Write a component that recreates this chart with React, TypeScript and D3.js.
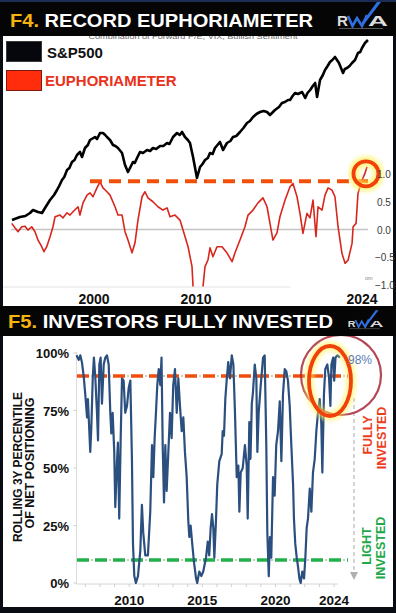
import React from 'react';
import * as d3 from 'd3';

// ---------- DATA ----------
const sp500: [number, number][] = [
  [1992.0, 10], [1992.78, 13], [1993.3, 14], [1993.76, 17], [1994.05, 20], [1994.54, 18], [1994.93, 17],
  [1995.22, 22], [1995.71, 30], [1996.1, 35], [1996.39, 40], [1996.6, 44], [1996.88, 50], [1997.1, 53],
  [1997.37, 60], [1997.6, 62], [1997.85, 68], [1998.1, 70], [1998.34, 75], [1998.63, 78], [1998.83, 73],
  [1999.12, 82], [1999.4, 85], [1999.61, 90], [2000.1, 93], [2000.3, 91], [2000.59, 97], [2000.88, 97],
  [2001.1, 95], [2001.27, 93], [2001.57, 90], [2001.86, 85], [2002.1, 84], [2002.35, 82], [2002.75, 77],
  [2003.04, 65], [2003.33, 58], [2003.53, 62], [2003.82, 68], [2004.0, 67], [2004.22, 72], [2004.51, 78],
  [2004.8, 77], [2005.2, 80], [2005.5, 79], [2005.78, 82], [2006.1, 81], [2006.47, 84], [2006.8, 84],
  [2007.16, 87], [2007.4, 86], [2007.75, 93], [2008.14, 97], [2008.4, 95], [2008.63, 98], [2008.92, 93],
  [2009.2, 90], [2009.41, 87], [2009.71, 73], [2010.08, 52], [2010.34, 63], [2010.55, 66], [2010.76, 70],
  [2011.0, 72], [2011.18, 77], [2011.4, 76], [2011.6, 82], [2012.02, 88], [2012.28, 80], [2012.61, 87],
  [2012.9, 89], [2013.12, 93], [2013.4, 94], [2013.71, 98], [2014.0, 102], [2014.3, 107], [2014.55, 109],
  [2014.81, 113], [2015.1, 116], [2015.4, 118], [2015.7, 119], [2015.99, 118], [2016.24, 115],
  [2016.66, 120], [2017.0, 123], [2017.25, 127], [2017.5, 128], [2017.76, 130], [2017.93, 130],
  [2018.15, 134], [2018.35, 137], [2018.6, 136], [2018.95, 138], [2019.21, 132], [2019.4, 137],
  [2019.63, 140], [2019.85, 144], [2020.05, 147], [2020.21, 133], [2020.46, 150], [2020.7, 155],
  [2020.88, 160], [2021.1, 164], [2021.3, 168], [2021.5, 170], [2021.72, 173], [2022.06, 167],
  [2022.4, 157], [2022.55, 161], [2022.74, 162], [2022.95, 164], [2023.16, 167], [2023.41, 170],
  [2023.66, 177], [2023.85, 178], [2024.0, 182], [2024.25, 187], [2024.5, 190],
];

const euphoria: [number, number][] = [
  [1991.97, 0.11], [1992.29, 0.03], [1992.59, -0.04], [1992.95, 0.05], [1993.27, 0.06], [1993.56, -0.01],
  [1993.92, 0.05], [1994.24, -0.04], [1994.54, -0.19], [1994.9, -0.31], [1995.12, -0.4], [1995.39, -0.31],
  [1995.71, -0.13], [1996.0, 0.05], [1996.2, 0.23], [1996.68, 0.26], [1996.98, 0.21], [1997.37, 0.3],
  [1997.66, 0.26], [1997.95, 0.32], [1998.44, 0.41], [1998.63, 0.26], [1998.93, 0.48], [1999.32, 0.62],
  [1999.61, 0.66], [1999.9, 0.59], [2000.29, 0.75], [2000.59, 0.86], [2000.88, 0.75], [2001.27, 0.68],
  [2001.57, 0.62], [2002.06, 0.41], [2002.35, 0.26], [2002.75, 0.26], [2003.04, -0.04], [2003.33, -0.19],
  [2003.73, -0.42], [2004.02, -0.24], [2004.31, 0.17], [2004.71, 0.59], [2005.0, 0.68], [2005.29, 0.57],
  [2005.78, 0.5], [2006.27, 0.41], [2006.76, 0.35], [2007.16, 0.39], [2007.45, 0.23], [2007.94, 0.26],
  [2008.43, 0.17], [2008.73, -0.01], [2009.22, -0.31], [2009.61, -0.67], [2009.71, -1.03], [2010.0, -1.25],
  [2010.34, -1.25], [2010.59, -1.03], [2010.76, -0.67], [2011.01, -0.55], [2011.18, -0.33], [2011.43, -0.49],
  [2011.77, -0.31], [2012.19, -0.31], [2012.61, -0.42], [2013.04, -0.58], [2013.29, -0.42], [2013.71, -0.19],
  [2014.13, 0.05], [2014.39, 0.26], [2014.81, 0.35], [2015.23, 0.48], [2015.65, 0.57], [2015.99, 0.41],
  [2016.24, 0.11], [2016.49, -0.19], [2016.83, -0.06], [2017.08, 0.23], [2017.51, 0.53], [2017.93, 0.77],
  [2018.18, 0.83], [2018.52, 0.59], [2018.77, 0.29], [2019.02, -0.07], [2019.36, 0.29], [2019.61, 0.21],
  [2019.87, 0.53], [2020.12, -0.13], [2020.29, 0.41], [2020.63, 0.35], [2020.88, 0.62], [2021.14, 0.75],
  [2021.47, 0.71], [2021.72, 0.59], [2021.98, 0.05], [2022.31, -0.43], [2022.57, -0.61], [2022.83, -0.55],
  [2023.16, -0.25], [2023.25, 0.05], [2023.5, 0.11], [2023.66, 0.65], [2024.0, 0.89], [2024.25, 1.01],
  [2024.42, 1.13],
];

const positioning: [number, number][] = [
  [2006.4, 99], [2006.55, 97], [2006.66, 99], [2006.77, 96], [2006.89, 90], [2007.0, 82], [2007.12, 72],
  [2007.18, 80], [2007.27, 67], [2007.34, 57], [2007.41, 67], [2007.51, 89], [2007.59, 98], [2007.68, 90],
  [2007.8, 74], [2007.87, 62], [2007.96, 95], [2008.05, 98], [2008.14, 78], [2008.26, 95], [2008.37, 98],
  [2008.48, 99], [2008.6, 95], [2008.71, 74], [2008.78, 65], [2008.87, 74], [2008.98, 57], [2009.05, 33],
  [2009.17, 53], [2009.23, 61], [2009.32, 28], [2009.42, 63], [2009.51, 89], [2009.62, 88], [2009.73, 74],
  [2009.85, 77], [2009.97, 85], [2010.08, 88], [2010.19, 53], [2010.26, 17], [2010.35, 3], [2010.46, 0],
  [2010.6, 3], [2010.76, 14], [2010.87, 34], [2010.96, 22], [2011.1, 12], [2011.28, 12], [2011.44, 31],
  [2011.56, 60], [2011.65, 46], [2011.74, 63], [2011.83, 74], [2011.92, 86], [2012.02, 93], [2012.13, 86],
  [2012.21, 98], [2012.29, 60], [2012.38, 35], [2012.47, 60], [2012.56, 40], [2012.67, 56], [2012.79, 74],
  [2012.9, 63], [2013.01, 86], [2013.13, 93], [2013.25, 74], [2013.36, 89], [2013.47, 77], [2013.59, 66],
  [2013.7, 72], [2013.81, 57], [2013.93, 46], [2014.04, 27], [2014.11, 20], [2014.2, 25], [2014.31, 17],
  [2014.43, 9], [2014.57, 2], [2014.65, 0], [2014.79, 5], [2014.93, 3], [2015.06, 5], [2015.25, 11],
  [2015.37, 18], [2015.47, 12], [2015.57, 24], [2015.66, 30], [2015.75, 24], [2015.82, 11], [2015.93, 27],
  [2016.02, 43], [2016.16, 53], [2016.32, 56], [2016.39, 66], [2016.48, 64], [2016.57, 80], [2016.66, 88],
  [2016.77, 96], [2016.89, 89], [2017.01, 99], [2017.12, 95], [2017.23, 74], [2017.35, 46], [2017.46, 51],
  [2017.53, 31], [2017.62, 48], [2017.76, 50], [2017.91, 60], [2018.03, 51], [2018.1, 28], [2018.21, 70],
  [2018.29, 54], [2018.38, 78], [2018.46, 83], [2018.58, 95], [2018.69, 89], [2018.76, 57], [2018.85, 74],
  [2018.99, 86], [2019.15, 98], [2019.26, 99], [2019.37, 60], [2019.44, 22], [2019.54, 3], [2019.62, 20],
  [2019.71, 11], [2019.83, 46], [2019.94, 38], [2020.05, 60], [2020.17, 66], [2020.29, 79], [2020.4, 53],
  [2020.51, 82], [2020.63, 93], [2020.74, 92], [2020.85, 88], [2020.97, 77], [2021.08, 60], [2021.2, 43],
  [2021.26, 28], [2021.35, 17], [2021.45, 11], [2021.54, 7], [2021.63, 2], [2021.72, 0], [2021.83, 5],
  [2021.95, 2], [2022.04, 11], [2022.13, 24], [2022.22, 28], [2022.34, 41], [2022.45, 31], [2022.56, 48],
  [2022.68, 54], [2022.79, 66], [2022.9, 74], [2023.02, 80], [2023.13, 69], [2023.2, 48], [2023.31, 82],
  [2023.4, 93], [2023.54, 95], [2023.66, 89], [2023.75, 77], [2023.82, 95], [2023.94, 98], [2024.01, 88],
  [2024.1, 98], [2024.24, 99], [2024.4, 98],
];

const topYearTicks = [2000, 2010, 2024];
const euphoriaTicks = [1, 0.5, 0, -0.5, -1];
const bottomYearTicks = [2010, 2015, 2020, 2024];
const pctTicks = [100, 75, 50, 25, 0];
const euphoriaRecord = 0.87;
const fullyLevel = 90;
const lightLevel = 10;
const latestPct = 98;

// ---------- SCALES ----------
const xTop = d3.scaleLinear().domain([1992, 2000, 2010, 2024]).range([12, 94, 196, 362]);
const ySp = d3.scaleLinear().domain([0, 200]).range([230, 30]);
const yEu = d3.scaleLinear().domain([-1, 1]).range([285, 174]);
const xBot = d3.scaleLinear().domain([2006.4, 2024.4]).range([76.5, 339.9]);
const yPct = d3.scaleLinear().domain([0, 100]).range([583, 353]);

const FONT = '"Liberation Sans", Arial, Helvetica, sans-serif';

function Logo({ x, y, s }: { x: number; y: number; s: number }) {
  return (
    <g transform={`translate(${x},${y}) scale(${s})`}>
      <text x={1} y={0} fontSize={14} fontWeight={700} fill="#dcdcdc" textLength={11} lengthAdjust="spacingAndGlyphs">R</text>
      <polyline points="12,-10 16.5,0 21,-8 26,0 31,-11" fill="none" stroke="#2f6fe0" strokeWidth={2.6} strokeLinejoin="miter" />
      <polygon points="24,-1 27.5,-1 45,-24 41,-24" fill="#2f6fe0" />
      <text x={32} y={0} fontSize={14} fontWeight={700} fill="#dcdcdc" textLength={20} lengthAdjust="spacingAndGlyphs">A</text>
      <rect x={3} y={2} width={44} height={1} fill="#555" />
    </g>
  );
}

export default function App() {
  const spLine = d3.line<[number, number]>().x(d => xTop(d[0])).y(d => ySp(d[1]));
  const euLine = d3.line<[number, number]>().x(d => xTop(d[0])).y(d => yEu(d[1]));
  const posLine = d3.line<[number, number]>().x(d => xBot(d[0])).y(d => yPct(d[1]));
  const fmt = d3.format('.1f');
  const yRec = yEu(euphoriaRecord);
  const yFull = yPct(fullyLevel);
  const yLight = yPct(lightLevel);
  const last = euphoria[euphoria.length - 1];
  const minorYears = d3.range(2007, 2025);

  return (
    <svg width={396} height={613} style={{ position: 'absolute', left: 0, top: 0 }} fontFamily={FONT}>
      <defs>
        <filter id="blur" x="-20%" y="-50%" width="140%" height="200%">
          <feGaussianBlur stdDeviation={2.2} />
        </filter>
        <clipPath id="topClip"><rect x={3} y={36} width={390} height={251} /></clipPath>
        <clipPath id="botClip"><rect x={3} y={336} width={390} height={271} /></clipPath>
      </defs>

      {/* frame */}
      <rect x={0} y={0} width={396} height={613} fill="#0a0c14" />
      <rect x={0} y={0} width={396} height={2} fill="#1d2c55" />
      <rect x={3} y={36} width={390} height={270} fill="#ffffff" />
      <rect x={3} y={336} width={390} height={271} fill="#ffffff" />

      {/* ===== TOP PANEL ===== */}
      <text x={193} y={38.5} fontSize={8} fill="#666" textAnchor="middle" textLength={209} lengthAdjust="spacingAndGlyphs">
        Combination of Forward P/E, VIX, Bullish Sentiment
      </text>
      <rect x={0} y={2} width={396} height={34} fill="#050505" />
      <text x={10} y={27} fontSize={19} fontWeight={700} textLength={303} lengthAdjust="spacingAndGlyphs">
        <tspan fill="#f6b40c">F4. </tspan><tspan fill="#ffffff">RECORD EUPHORIAMETER</tspan>
      </text>
      <Logo x={336} y={26} s={1} />

      {/* legend */}
      <rect x={6.5} y={41.5} width={35} height={20} fill="#05070d" stroke="#3a3a3a" strokeWidth={1} />
      <text x={47} y={57.5} fontSize={15} fontWeight={700} fill="#111">S&amp;P500</text>
      <rect x={6.5} y={70.5} width={35} height={20} fill="#ff2d0c" stroke="#7a1a12" strokeWidth={1} />
      <text x={45} y={86} fontSize={15} fontWeight={700} fill="#e8321c">EUPHORIAMETER</text>

      {/* zero line */}
      <line x1={11} x2={368} y1={yEu(0)} y2={yEu(0)} stroke="#c4c4c4" strokeWidth={1.4} />

      {/* series */}
      <g clipPath="url(#topClip)">
        <path d={spLine(sp500) || ''} fill="none" stroke="#000" strokeWidth={2.6} strokeLinejoin="round" />
        <path d={euLine(euphoria) || ''} fill="none" stroke="#d8261c" strokeWidth={1.6} strokeLinejoin="round" />
      </g>

      {/* record dashed line with glow */}
      <line x1={89} x2={379} y1={yRec} y2={yRec} stroke="#fff25a" strokeWidth={10} opacity={0.75} filter="url(#blur)" />
      <line x1={90} x2={378} y1={yRec} y2={yRec} stroke="#f0500a" strokeWidth={4} strokeDasharray="12 7" />

      {/* circle around latest */}
      <circle cx={xTop(last[0]) - 1} cy={yEu(last[1]) + 7} r={12.5} fill="none" stroke="#fff25a" strokeWidth={10} opacity={0.75} filter="url(#blur)" />
      <circle cx={xTop(last[0]) - 1} cy={yEu(last[1]) + 7} r={12.5} fill="none" stroke="#f2400c" strokeWidth={3.8} />

      {/* right axis labels */}
      {euphoriaTicks.map(v => (
        <text key={v} x={v < 0 ? 375 : 377} y={yEu(v) + 4} fontSize={10} fill="#3a3a3a">{fmt(v)}</text>
      ))}
      <text x={365} y={280} fontSize={5.5} fill="#888">om</text>

      {/* label band */}
      <rect x={3} y={289} width={390} height={17} fill="#fff" />
      <line x1={3} x2={290} y1={287} y2={287} stroke="#e2e2e2" strokeWidth={1} />
      {topYearTicks.map(t => (
        <text key={t} x={xTop(t)} y={304} fontSize={14} fontWeight={700} fill="#111" textAnchor="middle">{t}</text>
      ))}

      {/* ===== BOTTOM PANEL ===== */}
      <rect x={0} y={306} width={396} height={30} fill="#050505" />
      <text x={8} y={328} fontSize={19} fontWeight={700} textLength={325} lengthAdjust="spacingAndGlyphs">
        <tspan fill="#f6b40c">F5. </tspan><tspan fill="#ffffff">INVESTORS FULLY INVESTED</tspan>
      </text>
      <Logo x={347} y={327} s={0.7} />

      {/* axes */}
      <line x1={76.5} x2={76.5} y1={352} y2={584} stroke="#dcdcdc" strokeWidth={1} />
      {pctTicks.map(v => (
        <line key={'t' + v} x1={73.5} x2={76.5} y1={yPct(v)} y2={yPct(v)} stroke="#cfcfcf" strokeWidth={1} />
      ))}
      <line x1={76.5} x2={338} y1={584} y2={584} stroke="#d6d6d6" strokeWidth={1} />
      {minorYears.map(t => (
        <line key={'m' + t} x1={xBot(t)} x2={xBot(t)} y1={584} y2={587} stroke="#cfcfcf" strokeWidth={1} />
      ))}

      {pctTicks.map(v => (
        <text key={v} x={69} y={yPct(v) + 5} fontSize={13} fontWeight={700} fill="#111" textAnchor="end">{v}%</text>
      ))}
      <g transform="translate(22,467) rotate(-90)">
        <text x={0} y={0} fontSize={12} fontWeight={700} fill="#111" textAnchor="middle" textLength={150} lengthAdjust="spacingAndGlyphs">ROLLING 3Y PERCENTILE</text>
      </g>
      <g transform="translate(34,463) rotate(-90)">
        <text x={0} y={0} fontSize={12} fontWeight={700} fill="#111" textAnchor="middle" textLength={131} lengthAdjust="spacingAndGlyphs">OF NET POSITIONING</text>
      </g>

      {/* threshold lines */}
      <line x1={76} x2={349} y1={yFull} y2={yFull} stroke="#fff25a" strokeWidth={9} opacity={0.6} filter="url(#blur)" />
      <line x1={77} x2={348} y1={yFull} y2={yFull} stroke="#b9b9b9" strokeWidth={1.5} strokeDasharray="2 16" strokeDashoffset={4} />
      <line x1={77} x2={348} y1={yFull} y2={yFull} stroke="#f04e0e" strokeWidth={3.5} strokeDasharray="12 6" />
      <line x1={76} x2={349} y1={yLight} y2={yLight} stroke="#fff25a" strokeWidth={9} opacity={0.6} filter="url(#blur)" />
      <line x1={77} x2={348} y1={yLight} y2={yLight} stroke="#b9b9b9" strokeWidth={1.5} strokeDasharray="2 16" strokeDashoffset={4} />
      <line x1={77} x2={348} y1={yLight} y2={yLight} stroke="#22b04a" strokeWidth={3.5} strokeDasharray="12 6" />

      {/* series */}
      <g clipPath="url(#botClip)">
        <path d={posLine(positioning) || ''} fill="none" stroke="#2b4f7e" strokeWidth={2.2} strokeLinejoin="round" />
      </g>

      {/* annotations */}
      <line x1={354} x2={354} y1={398} y2={573} stroke="#bdbdbd" strokeWidth={1.3} strokeDasharray="4 3" />
      <polygon points="350,572 358,572 354,580" fill="#b0b0b0" />
      <g clipPath="url(#botClip)">
        <circle cx={341} cy={375} r={40} fill="none" stroke="#a8283a" strokeWidth={2.2} opacity={0.85} />
      </g>
      <ellipse cx={330} cy={381} rx={21} ry={35} fill="none" stroke="#fff25a" strokeWidth={9} opacity={0.65} filter="url(#blur)" />
      <ellipse cx={330} cy={381} rx={21} ry={35} fill="none" stroke="#f2400c" strokeWidth={3.8} />
      <text x={348} y={364} fontSize={12} fill="#5a7db5">{latestPct}%</text>

      <g transform="translate(372,435) rotate(-90)">
        <text x={0} y={0} fontSize={12.5} fontWeight={700} fill="#ee3d1c" textAnchor="middle">FULLY</text>
      </g>
      <g transform="translate(386,438) rotate(-90)">
        <text x={0} y={0} fontSize={12.5} fontWeight={700} fill="#ee3d1c" textAnchor="middle">INVESTED</text>
      </g>
      <g transform="translate(371,546) rotate(-90)">
        <text x={0} y={0} fontSize={12.5} fontWeight={700} fill="#1fa84a" textAnchor="middle">LIGHT</text>
      </g>
      <g transform="translate(385,548) rotate(-90)">
        <text x={0} y={0} fontSize={12.5} fontWeight={700} fill="#1fa84a" textAnchor="middle">INVESTED</text>
      </g>

      {bottomYearTicks.map(t => (
        <text key={t} x={xBot(t)} y={605} fontSize={13.5} fontWeight={700} fill="#111" textAnchor="middle">{t}</text>
      ))}
    </svg>
  );
}
